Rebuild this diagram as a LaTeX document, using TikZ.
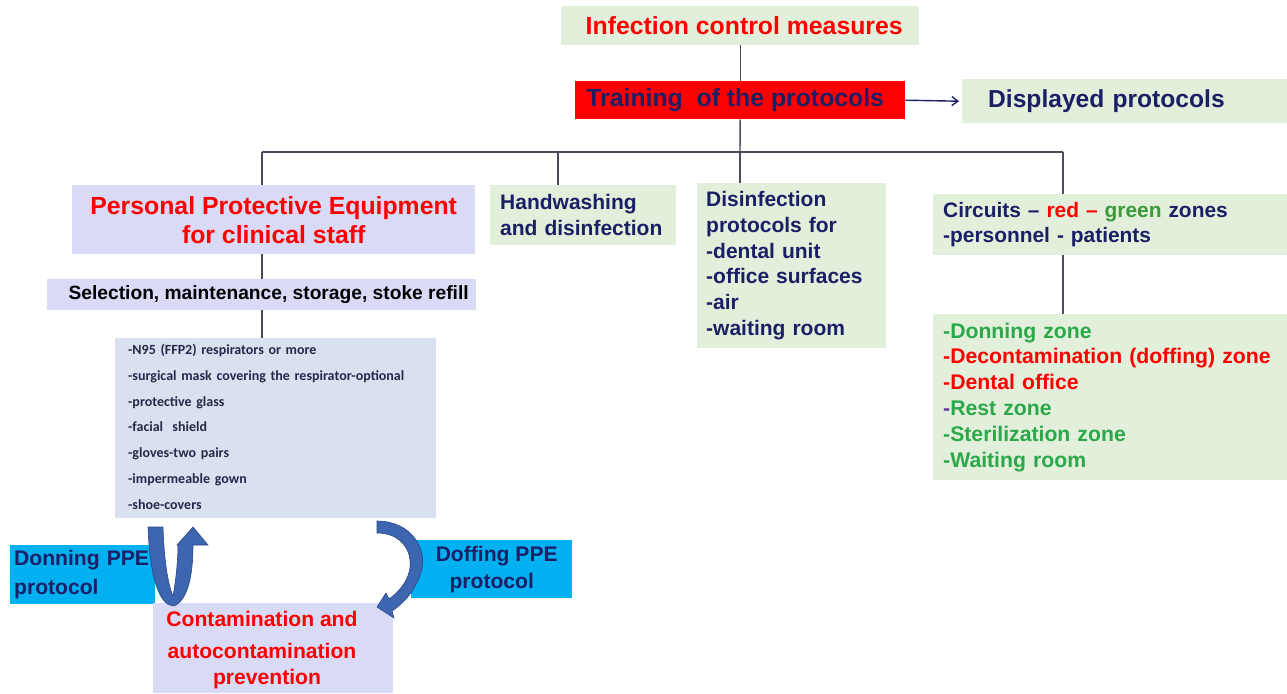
\documentclass[tikz,border=0pt]{standalone}
\usepackage{fontspec}
\setmainfont{Liberation Sans}
\newfontfamily\carl{Carlito}
\usetikzlibrary{arrows.meta}
\definecolor{boxgreen}{HTML}{E2EFDA}
\definecolor{boxlav}{HTML}{D8DAF6}
\definecolor{boxlist}{HTML}{D9E1F1}
\definecolor{cyanbox}{HTML}{00B0F0}
\definecolor{navy}{HTML}{1C1F66}
\definecolor{redt}{HTML}{FF0000}
\definecolor{greent}{HTML}{2BA84A}
\definecolor{greenw}{HTML}{3A9A3A}
\definecolor{purp}{HTML}{6A3A9A}
\definecolor{linec}{HTML}{4A4A58}
\definecolor{listtxt}{HTML}{232A48}
\definecolor{arrowfill}{HTML}{3E66B0}
\definecolor{arrowdraw}{HTML}{2A4685}
\newcommand\myfs[2]{\fontsize{#1}{#2}\selectfont}
\tikzset{
  conn/.style={draw=linec, line width=1.4pt},
  boxbase/.style={anchor=north west, inner ysep=0pt, draw=none},
  gbox/.style={boxbase, fill=boxgreen},
  lbox/.style={boxbase, fill=boxlav},
  cbox/.style={boxbase, fill=cyanbox},
  bigred/.style={text=redt, font=\myfs{24.8}{29}\bfseries},
  mid/.style={text=navy, font=\myfs{21}{25.8}\bfseries},
  bluearrow/.style={fill=arrowfill, draw=arrowdraw, line width=0.6pt},
}
\begin{document}
\begin{tikzpicture}[x=1pt,y=-1pt]
\useasboundingbox (0,0) rectangle (1287,693);

% top
\node[gbox, bigred, minimum width=358, minimum height=39, inner xsep=0pt, align=center] (icm) at (561,6) {\hspace*{8pt}Infection control measures};
\node[boxbase, fill=redt, text=navy, font=\myfs{24.8}{29}\bfseries, minimum width=330, minimum height=38, inner xsep=0pt, align=center] (train) at (575,81) {Training\ \ of the protocols\hspace*{10pt}};
\node[gbox, text=navy, font=\myfs{24.6}{29}\bfseries, minimum width=325, minimum height=44, inner xsep=26pt, text width=273pt, align=left] (disp) at (962,79) {\raisebox{-2pt}{Displayed protocols}};

% second level
\node[lbox, bigred, minimum width=403, minimum height=69, inner xsep=0pt, align=center] (ppe) at (72,185) {Personal Protective Equipment\\for clinical staff};
\node[gbox, mid, minimum width=186, minimum height=60, inner xsep=10pt, text width=166pt, align=left] (hand) at (490,185) {Handwashing\\and disinfection};
\node[gbox, mid, minimum width=189, minimum height=165, inner xsep=9pt, text width=171pt, align=left] (dis) at (697,183) {Disinfection\\protocols for\\-dental unit\\-office surfaces\\-air\\-waiting room};
\node[gbox, mid, font=\myfs{20.9}{25}\bfseries, minimum width=354, minimum height=61, inner xsep=10pt, text width=334pt, align=left] (circ) at (933,194) {\raisebox{-2pt}{Circuits -- \textcolor{redt}{red --} \textcolor{greenw}{green} zones}\\\raisebox{-2pt}{-personnel - patients}};
\node[gbox, font=\myfs{21.2}{25.8}\bfseries, text=greent, minimum width=354, minimum height=166, inner xsep=10pt, text width=334pt, align=left] (zones) at (933,314) {-Donning zone\\\textcolor{redt}{-Decontamination (doffing) zone}\\\textcolor{redt}{-Dental office}\\\textcolor{purp}{-}Rest zone\\-Sterilization zone\\-Waiting room};

% PPE column
\node[lbox, text=black, font=\myfs{19.2}{22}\bfseries, minimum width=429, minimum height=31, inner xsep=0pt, align=center] (sel) at (47,279) {\hspace*{14pt}Selection, maintenance, storage, stoke refill};
\node[boxbase, fill=boxlist, text=listtxt, font=\carl\myfs{14}{25.8}\bfseries, minimum width=321, minimum height=180, inner xsep=13pt, text width=295pt, align=left] (list) at (115,338) {\raisebox{3pt}{-N95 (FFP2) respirators or more}\\\raisebox{3pt}{-surgical mask covering the respirator-optional}\\\raisebox{3pt}{-protective glass}\\\raisebox{3pt}{-facial\ \ shield}\\\raisebox{3pt}{-gloves-two pairs}\\\raisebox{3pt}{-impermeable gown}\\\raisebox{3pt}{-shoe-covers}};

\node[cbox, mid, font=\myfs{21.1}{29}\bfseries, minimum width=145, minimum height=59, inner xsep=4pt, text width=137pt, align=left] (don) at (10,545) {Donning PPE\\protocol};
\node[cbox, mid, font=\myfs{21.1}{27}\bfseries, minimum width=161, minimum height=58, inner xsep=0pt, align=center] (doff) at (411,540) {\hspace*{10pt}Doffing PPE\\protocol};
\node[lbox, minimum width=240, minimum height=90, inner xsep=0pt] (cont) at (153,603) {};
\node[text=redt, font=\myfs{21.1}{26}\bfseries, align=center, inner sep=0pt] (contt) at (262,650) {Contamination and\\[6pt]autocontamination\\\hspace*{10pt}prevention};

% connectors
\coordinate (busL) at (262,152);
\coordinate (busH) at (558,152);
\coordinate (busM) at (740,152);
\coordinate (busR) at (1063,152);
\coordinate (ppeB) at (262,254);
\coordinate (selB) at (262,310);
\coordinate (circB) at (1063,255);
\draw[conn] (icm.south) -- (train.north);
\draw[conn] (train.south) -- (busM);
\draw[conn] (busL) -- (busR);
\draw[conn] (busL) -- (busL |- ppe.north);
\draw[conn] (busH) -- (busH |- hand.north);
\draw[conn] (busM) -- (busM |- dis.north);
\draw[conn] (busR) -- (busR |- circ.north);
\draw[conn] (ppeB) -- (ppeB |- sel.north);
\draw[conn] (selB) -- (selB |- list.north);
\draw[conn] (circB) -- (circB |- zones.north);
\draw[draw=navy, line width=1.4pt, -{Straight Barb[length=6pt,width=9pt]}] (train.east) -- ([xshift=-3pt]disp.west);

% curved block arrows
\path[bluearrow] (148,527) -- (163,527) .. controls (164,560) and (168,585) .. (173,596)
  .. controls (176,580) and (178,560) .. (178,545) -- (177,545) -- (193,527) -- (208,545) -- (193,545)
  .. controls (193,575) and (188,600) .. (174,606) .. controls (160,606) and (150,580) .. (148,527) -- cycle;
\path[bluearrow] (377,521) .. controls (412,521) and (428,550) .. (421,572)
  .. controls (416,590) and (403,604) .. (392,611) -- (394,618) -- (377,607) -- (386,593) -- (389,599)
  .. controls (402,590) and (412,575) .. (410,560) .. controls (408,543) and (395,533) .. (377,533) -- cycle;
\end{tikzpicture}
\end{document}
